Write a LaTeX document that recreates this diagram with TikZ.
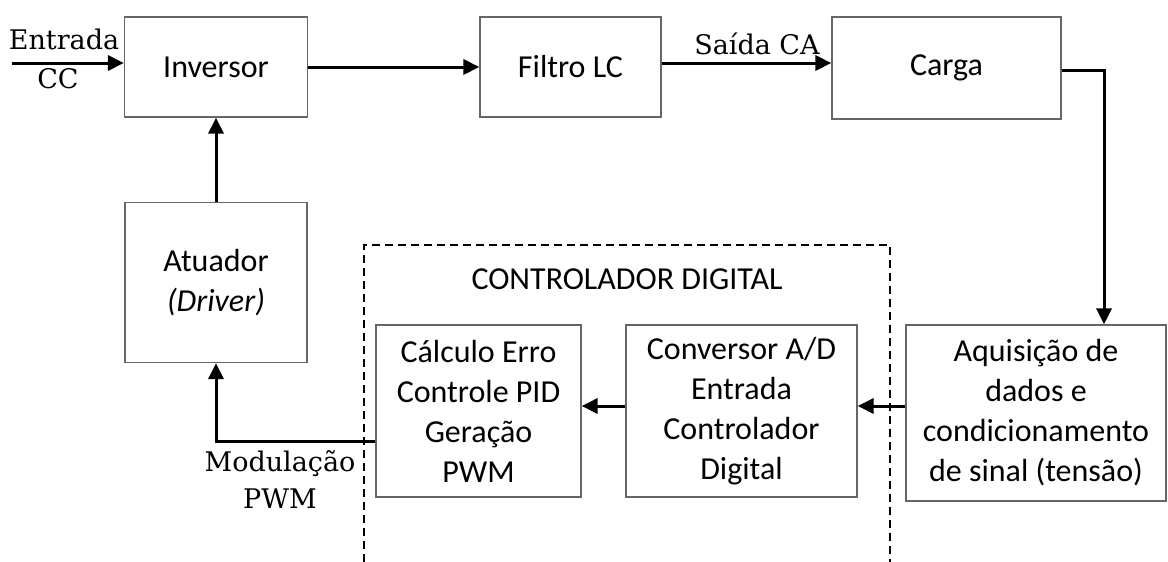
\documentclass[tikz,border=0pt]{standalone}
\usepackage{fontspec}
\newfontfamily\calibri{Carlito}
\newfontfamily\cambria{DejaVu Serif}
\usetikzlibrary{arrows.meta,positioning}

\tikzset{
  bloco/.style={draw=black!60, line width=1.2pt, align=center, inner sep=0pt,
    font=\calibri\fontsize{32}{40}\selectfont},
  seta/.style={line width=3pt, -{Triangle[length=16pt,width=15pt]}},
  rotulo/.style={font=\cambria\fontsize{27}{36}\selectfont, anchor=base}
}

\begin{document}
\begin{tikzpicture}[x=1pt, y=-1pt]
    \useasboundingbox (0,0) rectangle (1168,562);

    % cadeia de potencia
    \node[bloco, minimum width=183, minimum height=100] (inv) at (216,67) {Inversor};
    \node[bloco, minimum width=181, minimum height=100] (filtro) at (570.5,67) {Filtro LC};
    \node[bloco, minimum width=229, minimum height=102] (carga) at (946.5,68) {Carga};
    \node[bloco, minimum width=182, minimum height=160] (atuador) at (216,282.5) {Atuador\\\textit{(Driver)}};

    % malha de controle
    \node[bloco, minimum width=205, minimum height=172] (calc) at (478.5,411) {Cálculo Erro\\Controle PID\\Geração\\PWM};
    \node[bloco, minimum width=231, minimum height=172] (conv) at (741.5,411) {Conversor A/D\\Entrada\\Controlador\\Digital};
    \node[bloco, minimum width=260, minimum height=176] (aquis) at (1036,413) {Aquisição de\\dados e\\condicionamento\\de sinal (tensão)};

    % controlador digital (tracejado)
    \draw[line width=1.3pt, dash pattern=on 8pt off 5pt] (364,562) -- (364,245) -- (890,245) -- (890,562);
    \node[font=\calibri\fontsize{32}{38}\selectfont, anchor=base] (titulo) at (627,289) {CONTROLADOR DIGITAL};

    % conexoes
    \coordinate (entra) at (12,63);
    \coordinate (desce) at (1104,70);
    \draw[seta] (entra) -- ([yshift=4pt]inv.west);
    \draw[seta] (inv) -- (filtro);
    \draw[seta] ([yshift=4pt]filtro.east) -- ([yshift=5pt]carga.west);
    \draw[seta] (carga.east |- desce) -- (desce) -- (desce |- aquis.north);
    \draw[seta] ([yshift=7pt]aquis.west) -- ([yshift=5pt]conv.east);
    \draw[seta] ([yshift=5pt]conv.west) -- ([yshift=5pt]calc.east);
    \draw[seta] ([yshift=-30pt]calc.west) -| (atuador.south);
    \draw[seta] (atuador) -- (inv);

    % rotulos
    \node[rotulo] (entrada) at (64,49) {Entrada};
    \node[rotulo] (cc) at (58,88) {CC};
    \node[rotulo] (saida) at (757,54) {Saída CA};
    \node[rotulo] (modulacao) at (280,471) {Modulação};
    \node[rotulo] (pwm) at (280,508) {PWM};
\end{tikzpicture}
\end{document}
